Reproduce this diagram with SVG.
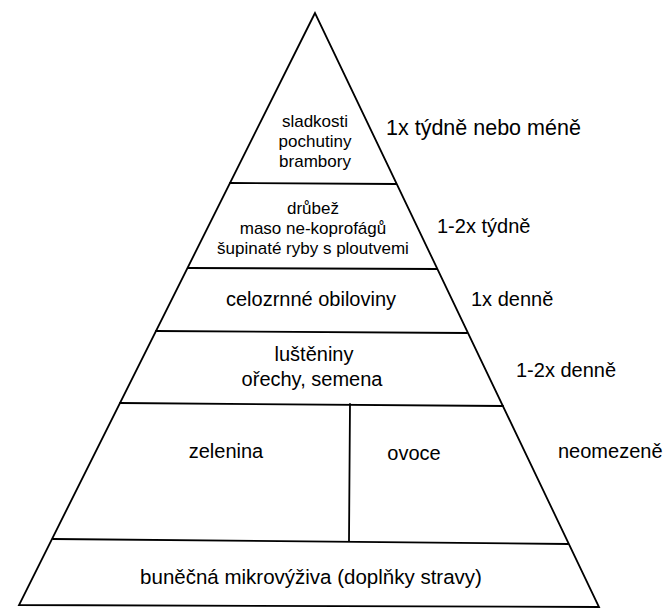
<svg xmlns="http://www.w3.org/2000/svg" width="663" height="608" viewBox="0 0 663 608">
<style>
.ln{stroke:#000;stroke-width:1.8;fill:none;stroke-linecap:round;stroke-linejoin:miter}
text{font-family:"Liberation Sans",Arial,Helvetica,sans-serif;fill:#000}
.s{font-size:17px;text-anchor:middle}
.m{font-size:20px;text-anchor:middle}
.r{font-size:20px}
</style>
<rect width="663" height="608" fill="#fff"/>
<g id="connectors">
<polygon class="ln" points="315,13 19,605 599,607"/>
<line class="ln" x1="230" y1="183" x2="396" y2="184"/>
<line class="ln" x1="188" y1="268" x2="437" y2="269"/>
<line class="ln" x1="156" y1="331" x2="467" y2="333"/>
<line class="ln" x1="120" y1="403" x2="503" y2="406"/>
<line class="ln" x1="53" y1="539" x2="568" y2="544"/>
<line class="ln" x1="350" y1="404" x2="349" y2="541"/>
</g>
<g id="tier1">
<text class="s" x="315" y="127">sladkosti</text>
<text class="s" x="315" y="147">pochutiny</text>
<text class="s" x="315" y="167">brambory</text>
</g>
<g id="tier2">
<text class="s" x="313" y="214">drůbež</text>
<text class="s" x="313" y="234">maso ne-koprofágů</text>
<text class="s" x="313" y="254">šupinaté ryby s ploutvemi</text>
</g>
<g id="tier3">
<text class="m" x="311" y="306">celozrnné obiloviny</text>
</g>
<g id="tier4">
<text class="m" x="314" y="361">luštěniny</text>
<text class="m" x="312" y="386">ořechy, semena</text>
</g>
<g id="tier5a">
<text class="m" x="226" y="458">zelenina</text>
</g>
<g id="tier5b">
<text class="m" x="414" y="460">ovoce</text>
</g>
<g id="tier6">
<text class="m" x="311" y="584" style="font-size:20.5px">buněčná mikrovýživa (doplňky stravy)</text>
</g>
<g id="labels">
<text class="r" x="386" y="135" style="font-size:21.5px">1x týdně nebo méně</text>
<text class="r" x="437" y="233">1-2x týdně</text>
<text class="r" x="471" y="306">1x denně</text>
<text class="r" x="516" y="377">1-2x denně</text>
<text class="r" x="558" y="458">neomezeně</text>
</g>
</svg>
